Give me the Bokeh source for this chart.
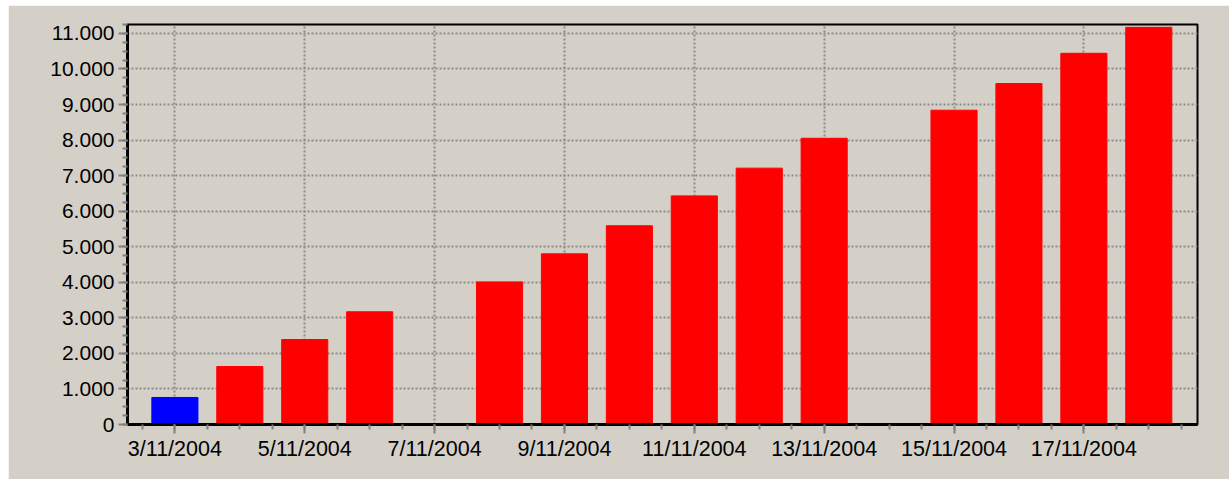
from bokeh.plotting import figure
from bokeh.models import FixedTicker, ColumnDataSource, Spacer
from bokeh.layouts import column, row
from bokeh.embed import file_html
from bokeh.resources import INLINE

# ---- data ----
dates = ["3/11/2004", "4/11/2004", "5/11/2004", "6/11/2004",
         "8/11/2004", "9/11/2004", "10/11/2004", "11/11/2004",
         "12/11/2004", "13/11/2004", "15/11/2004", "16/11/2004",
         "17/11/2004", "18/11/2004"]
values = [760, 1630, 2390, 3170, 4010, 4800, 5590, 6430,
          7210, 8050, 8840, 9590, 10440, 11170]
x_tick_days = [3, 5, 7, 9, 11, 13, 15, 17]
x_tick_labels = ["3/11/2004", "5/11/2004", "7/11/2004", "9/11/2004",
                 "11/11/2004", "13/11/2004", "15/11/2004", "17/11/2004"]
y_ticks = [0, 1000, 2000, 3000, 4000, 5000, 6000, 7000, 8000, 9000, 10000, 11000]
y_tick_labels = ["0", "1.000", "2.000", "3.000", "4.000", "5.000", "6.000",
                 "7.000", "8.000", "9.000", "10.000", "11.000"]

days = [int(d.split("/")[0]) for d in dates]
colors = ["#0000FF"] + ["#FF0000"] * (len(values) - 1)
src = ColumnDataSource(dict(x=days, top=values, color=colors, date=dates))

BG = "#D4D0C8"
FONT = "Liberation Sans"

p = figure(width=1221, height=474, x_range=(2.27, 18.75), y_range=(0, 11250),
           output_backend="svg", toolbar_location=None,
           background_fill_color=BG, border_fill_color=BG,
           min_border_left=119, min_border_right=32,
           min_border_top=19, min_border_bottom=55)

p.vbar(x="x", top="top", width=0.71, bottom=0, color="color", source=src)

p.outline_line_color = "black"
p.outline_line_width = 2
p.outline_line_alpha = 1

minor_x = [2.5 + 0.5 * i for i in range(33)]
p.xaxis.ticker = FixedTicker(ticks=x_tick_days, minor_ticks=minor_x)
p.xaxis.major_label_overrides = {d: l for d, l in zip(x_tick_days, x_tick_labels)}
minor_y = [250 * i for i in range(46)]
p.yaxis.ticker = FixedTicker(ticks=y_ticks, minor_ticks=minor_y)
p.yaxis.major_label_overrides = {v: l for v, l in zip(y_ticks, y_tick_labels)}

for ax in (p.xaxis, p.yaxis):
    ax.axis_line_color = "black"
    ax.axis_line_width = 3
    ax.major_tick_line_color = "#808080"
    ax.minor_tick_line_color = "#808080"
    ax.major_tick_line_width = 2
    ax.minor_tick_line_width = 2
    ax.major_tick_in = 0
    ax.minor_tick_in = 0
    ax.major_label_text_font = FONT
    ax.major_label_text_font_size = "21px"
    ax.major_label_text_color = "black"
    ax.major_label_text_font_style = "normal"

p.xaxis.major_label_text_font_size = "21.5px"
p.xaxis.major_tick_out = 9
p.xaxis.minor_tick_out = 5
p.yaxis.major_tick_out = 9
p.yaxis.minor_tick_out = 5
p.xaxis.major_label_standoff = 3
p.yaxis.major_label_standoff = 4

p.xgrid.ticker = FixedTicker(ticks=x_tick_days)
p.ygrid.ticker = FixedTicker(ticks=y_ticks)
for g in (p.xgrid, p.ygrid):
    g.grid_line_color = "#8c8c8c"
    g.grid_line_width = 2
    g.grid_line_dash = "2 2"

layout = column(Spacer(width=1229, height=5),
                row(Spacer(width=8, height=474), p))

open("out.html", "w").write(file_html(layout, INLINE))
